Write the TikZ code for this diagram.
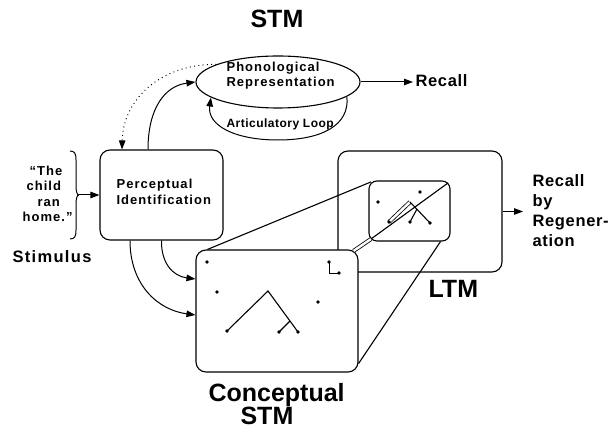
\documentclass[tikz,border=0pt]{standalone}
\usepackage{fontspec}
\setmainfont{Liberation Sans}
\newfontfamily\spA{Liberation Sans}[LetterSpace=8]
\newfontfamily\spB{Liberation Sans}[LetterSpace=4]
\usetikzlibrary{arrows.meta,calc,shapes.geometric}
\begin{document}
\begin{tikzpicture}[x=1pt,y=1pt,line width=1.1pt,
  box/.style={draw,rounded corners=10pt,fill=white,inner sep=0pt},
  tip/.style={-{Triangle[length=9pt,width=6.5pt]}},
  txt/.style={inner sep=0pt,anchor=base west},
  smalltxt/.style={txt,font={\spA\bfseries\fontsize{13}{15}\selectfont}},
  looptxt/.style={txt,font={\spB\bfseries\fontsize{12}{14}\selectfont}},
  midtxt/.style={txt,font={\spB\bfseries\fontsize{16.5}{20}\selectfont}},
  stimtxt/.style={txt,font={\spA\bfseries\fontsize{16.5}{20}\selectfont}},
  bigtxt/.style={txt,font={\bfseries\fontsize{25}{28}\selectfont}},
  dotline/.style={line width=1pt,dash pattern=on 0.9pt off 3.4pt},
  tube/.style={double,double distance=2.4pt,line width=0.8pt}]
\useasboundingbox (0,0) rectangle (612,430);

% boxes
\node[box,minimum width=164pt,minimum height=121pt] (ltm) at (420,218.5) {};
\node[box,rounded corners=8pt,minimum width=81pt,minimum height=60pt] (sm) at (409.5,219) {};
\node[box,minimum width=162pt,minimum height=122pt] (conc) at (277,119) {};
\node[box,minimum width=123pt,minimum height=90pt] (perc) at (161.5,235) {};
\node[draw,ellipse,inner sep=0pt,minimum width=164pt,minimum height=52pt] (stm) at (278,348) {};

% texts
\node[bigtxt] (stmlbl) at (250,402) {STM};
\node[smalltxt] (phon1) at (226,358) {Phonological};
\node[smalltxt] (phon2) at (226,343) {Representation};
\node[looptxt] (artic) at (226,302) {Articulatory Loop};
\node[midtxt] (recall) at (415,343) {Recall};
\node[smalltxt] (perc1) at (116,241) {Perceptual};
\node[smalltxt] (perc2) at (116,225) {Identification};
\node[smalltxt] (q1) at (29,254) {“The};
\node[smalltxt] (q2) at (26,239) {child};
\node[smalltxt] (q3) at (37,223) {ran};
\node[smalltxt] (q4) at (22,208) {home.”};
\node[stimtxt] (stim) at (12,167) {Stimulus};
\node[midtxt] (rg1) at (532,243) {Recall};
\node[midtxt] (rg2) at (532,223) {by};
\node[midtxt] (rg3) at (532,203) {Regener-};
\node[midtxt] (rg4) at (532,183) {ation};
\node[bigtxt] (ltmlbl) at (428,132) {LTM};
\node[bigtxt] (conc1) at (208,28) {Conceptual};
\node[bigtxt] (conc2) at (240,5) {STM};

% brace
\coordinate (bt) at (79,235);
\draw[line width=1pt] (70,279) .. controls (75,279) and (76,276) .. (76,270) -- (76,244)
  .. controls (76,239) and (77,235) .. (bt);
\draw[line width=1pt] (70,191) .. controls (75,191) and (76,194) .. (76,200) -- (76,226)
  .. controls (76,231) and (77,235) .. (bt);
\draw[tip,line width=1pt] (bt) -- (perc.west);

% STM connectors
\draw[tip,line width=1pt] (stm.east) -- ([xshift=-2pt]stm.east -| recall.west);
\draw[tip,dotline] (stm.164) .. controls (160,366) and (123,330) .. ([xshift=-39.5pt]perc.north);
\draw[tip,line width=1pt] ([xshift=-13.5pt]perc.north) .. controls (148,322) and (165,344) .. (stm.west);
\draw[tip,line width=1pt] (stm.-12) .. controls (350,305) and (322,290) .. (278,290)
  .. controls (234,290) and (207,305) .. (stm.193);

% perceptual -> conceptual
\draw[tip,line width=1pt] ([xshift=-31.5pt]perc.south) .. controls (130,145) and (158,120) .. ([yshift=-4pt]conc.west);
\draw[tip,line width=1pt] (perc.south) .. controls (161,168) and (172,154) .. ([yshift=32pt]conc.west);

% LTM -> recall by regeneration
\coordinate (rga) at (523,218.5);
\draw[tip,line width=1pt] (ltm.east) -- (rga);

% projection lines
\draw ([xshift=12pt]conc.north west) -- ([shift={(2.5pt,-1.5pt)}]sm.north west);
\draw ([yshift=9pt]conc.south east) -- ([xshift=-10pt]sm.south east);
\draw[tube] ([shift={(-5pt,-1.5pt)}]conc.north east) -- ([shift={(2.5pt,2.5pt)}]sm.south west);
\draw ([shift={(2.5pt,2.5pt)}]sm.south west) -- ([shift={(-2.5pt,-2.5pt)}]sm.north east);

% small-box content
\fill (378,228) circle (1.9pt);
\fill (420,238) circle (1.9pt);
\draw[tube] (389,208) -- (410,228);
\draw (410,228) -- (430,207);
\draw (417,221) -- (410,208);
\fill (389,208) circle (1.9pt);
\fill (410,208) circle (1.9pt);
\fill (430,207) circle (1.9pt);

% conceptual-box content
\fill (207,168) circle (1.9pt);
\fill (217,138) circle (1.9pt);
\fill (318,128) circle (1.9pt);
\draw[line width=0.9pt] (329,168) -- (329,157) -- (339,157);
\fill (329,168) circle (1.9pt);
\fill (339,157) circle (1.9pt);
\draw (227,99) -- (268,139) -- (298,98);
\draw (290,109) -- (279,98);
\fill (227,99) circle (1.9pt);
\fill (279,98) circle (1.9pt);
\fill (298,98) circle (1.9pt);
\end{tikzpicture}
\end{document}
